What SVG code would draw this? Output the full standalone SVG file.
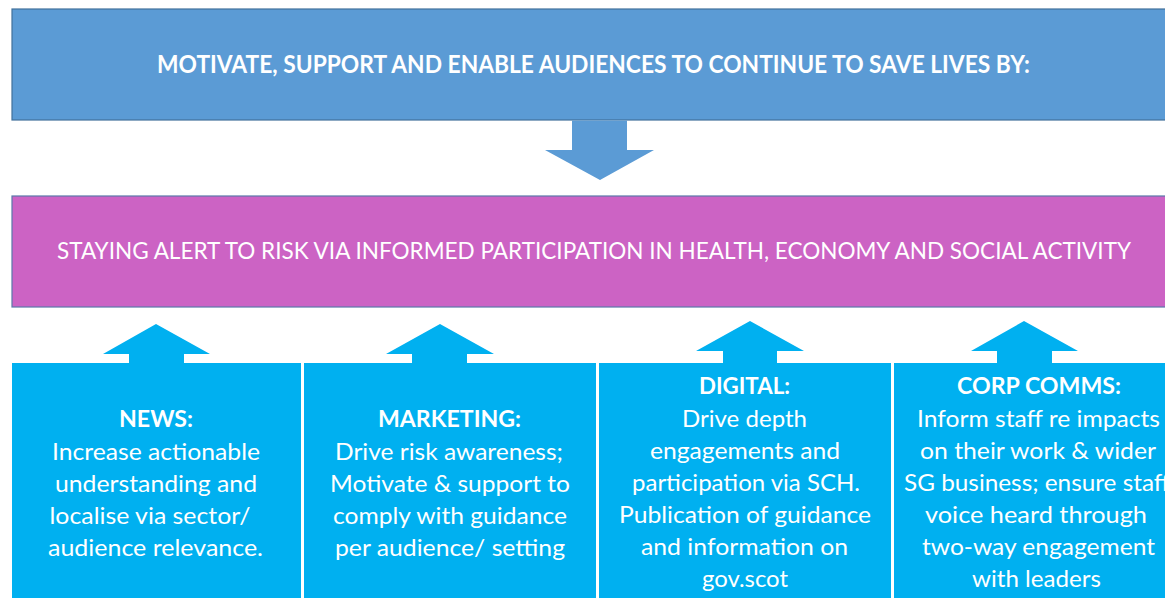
<svg xmlns="http://www.w3.org/2000/svg" width="1165" height="598" viewBox="0 0 1165 598">
  <style>
    .txt { font-family: Lato, "Open Sans", "Liberation Sans", sans-serif; fill: #ffffff; text-anchor: middle; }
    .head { font-size: 24px; font-weight: bold; }
    .band { font-size: 22.5px; }
    .title { font-size: 23px; font-weight: bold; }
    .body { font-size: 23px; }
    .goal { fill: #5b9bd5; stroke: #41719c; stroke-width: 1.2; }
    .aim { fill: #cc63c4; stroke: #5a78aa; stroke-width: 1.2; }
    .stream { fill: #00b0f0; }
    .down { fill: #5b9bd5; }
    .up { fill: #00b0f0; }
  </style>

  <rect x="0" y="0" width="1165" height="598" fill="#ffffff"/>

  <!-- overall goal -->
  <g id="goal">
    <rect class="goal" x="12" y="9" width="1170" height="111"/>
    <text class="txt head" x="593.5" y="73" textLength="873" lengthAdjust="spacingAndGlyphs">MOTIVATE, SUPPORT AND ENABLE AUDIENCES TO CONTINUE TO SAVE LIVES BY:</text>
  </g>

  <!-- behavioural aim -->
  <g id="aim">
    <rect class="aim" x="12" y="196" width="1170" height="111"/>
    <text class="txt band" x="594" y="259" textLength="1074" lengthAdjust="spacingAndGlyphs">STAYING ALERT TO RISK VIA INFORMED PARTICIPATION IN HEALTH, ECONOMY AND SOCIAL ACTIVITY</text>
  </g>

  <!-- workstreams -->
  <g id="news">
    <rect class="stream" x="12" y="363" width="289" height="240"/>
    <text class="txt title" x="156" y="427" textLength="74" lengthAdjust="spacingAndGlyphs">NEWS:</text>
    <text class="txt body" x="156" y="460" textLength="208" lengthAdjust="spacingAndGlyphs">Increase actionable</text>
    <text class="txt body" x="156" y="492" textLength="202" lengthAdjust="spacingAndGlyphs">understanding and</text>
    <text class="txt body" x="150" y="524" textLength="201" lengthAdjust="spacingAndGlyphs">localise via sector/</text>
    <text class="txt body" x="155.5" y="556" textLength="215" lengthAdjust="spacingAndGlyphs">audience relevance.</text>
  </g>

  <g id="marketing">
    <rect class="stream" x="304" y="363" width="292" height="240"/>
    <text class="txt title" x="449.5" y="427" textLength="143" lengthAdjust="spacingAndGlyphs">MARKETING:</text>
    <text class="txt body" x="449" y="460" textLength="228" lengthAdjust="spacingAndGlyphs">Drive risk awareness;</text>
    <text class="txt body" x="450" y="492" textLength="240" lengthAdjust="spacingAndGlyphs">Motivate &amp; support to</text>
    <text class="txt body" x="450" y="524" textLength="234" lengthAdjust="spacingAndGlyphs">comply with guidance</text>
    <text class="txt body" x="450" y="556" textLength="230" lengthAdjust="spacingAndGlyphs">per audience/ setting</text>
  </g>

  <g id="digital">
    <rect class="stream" x="599" y="363" width="292" height="240"/>
    <text class="txt title" x="744.5" y="394" textLength="91" lengthAdjust="spacingAndGlyphs">DIGITAL:</text>
    <text class="txt body" x="744.5" y="427" textLength="125" lengthAdjust="spacingAndGlyphs">Drive depth</text>
    <text class="txt body" x="745" y="459" textLength="190" lengthAdjust="spacingAndGlyphs">engagements and</text>
    <text class="txt body" x="746" y="491" textLength="228" lengthAdjust="spacingAndGlyphs">participation via SCH.</text>
    <text class="txt body" x="745" y="523" textLength="252" lengthAdjust="spacingAndGlyphs">Publication of guidance</text>
    <text class="txt body" x="744.5" y="555" textLength="207" lengthAdjust="spacingAndGlyphs">and information on</text>
    <text class="txt body" x="745" y="587" textLength="86" lengthAdjust="spacingAndGlyphs">gov.scot</text>
  </g>

  <g id="corp-comms">
    <rect class="stream" x="894" y="363" width="290" height="240"/>
    <text class="txt title" x="1039" y="394" textLength="164" lengthAdjust="spacingAndGlyphs">CORP COMMS:</text>
    <text class="txt body" x="1038.5" y="427" textLength="243" lengthAdjust="spacingAndGlyphs">Inform staff re impacts</text>
    <text class="txt body" x="1038" y="459" textLength="236" lengthAdjust="spacingAndGlyphs">on their work &amp; wider</text>
    <text class="txt body" x="1037" y="491" textLength="266" lengthAdjust="spacingAndGlyphs">SG business; ensure staff</text>
    <text class="txt body" x="1036" y="523" textLength="222" lengthAdjust="spacingAndGlyphs">voice heard through</text>
    <text class="txt body" x="1038.5" y="555" textLength="233" lengthAdjust="spacingAndGlyphs">two-way engagement</text>
    <text class="txt body" x="1036.5" y="587" textLength="129" lengthAdjust="spacingAndGlyphs">with leaders</text>
  </g>

  <!-- block arrows -->
  <g id="connectors">
    <polygon class="down" points="572,120.6 627,120.6 627,150 654,150 600,180 545,150 572,150"/>
    <polygon class="up" points="156,324 210,354 184,354 184,364 129,364 129,354 103,354"/>
    <polygon class="up" points="440,324 494,354 467,354 467,364 412,364 412,354 386,354"/>
    <polygon class="up" points="750,321 804,351 777,351 777,364 723,364 723,351 696,351"/>
    <polygon class="up" points="1024,321 1078,351 1052,351 1052,364 997,364 997,351 971,351"/>
  </g>
</svg>
